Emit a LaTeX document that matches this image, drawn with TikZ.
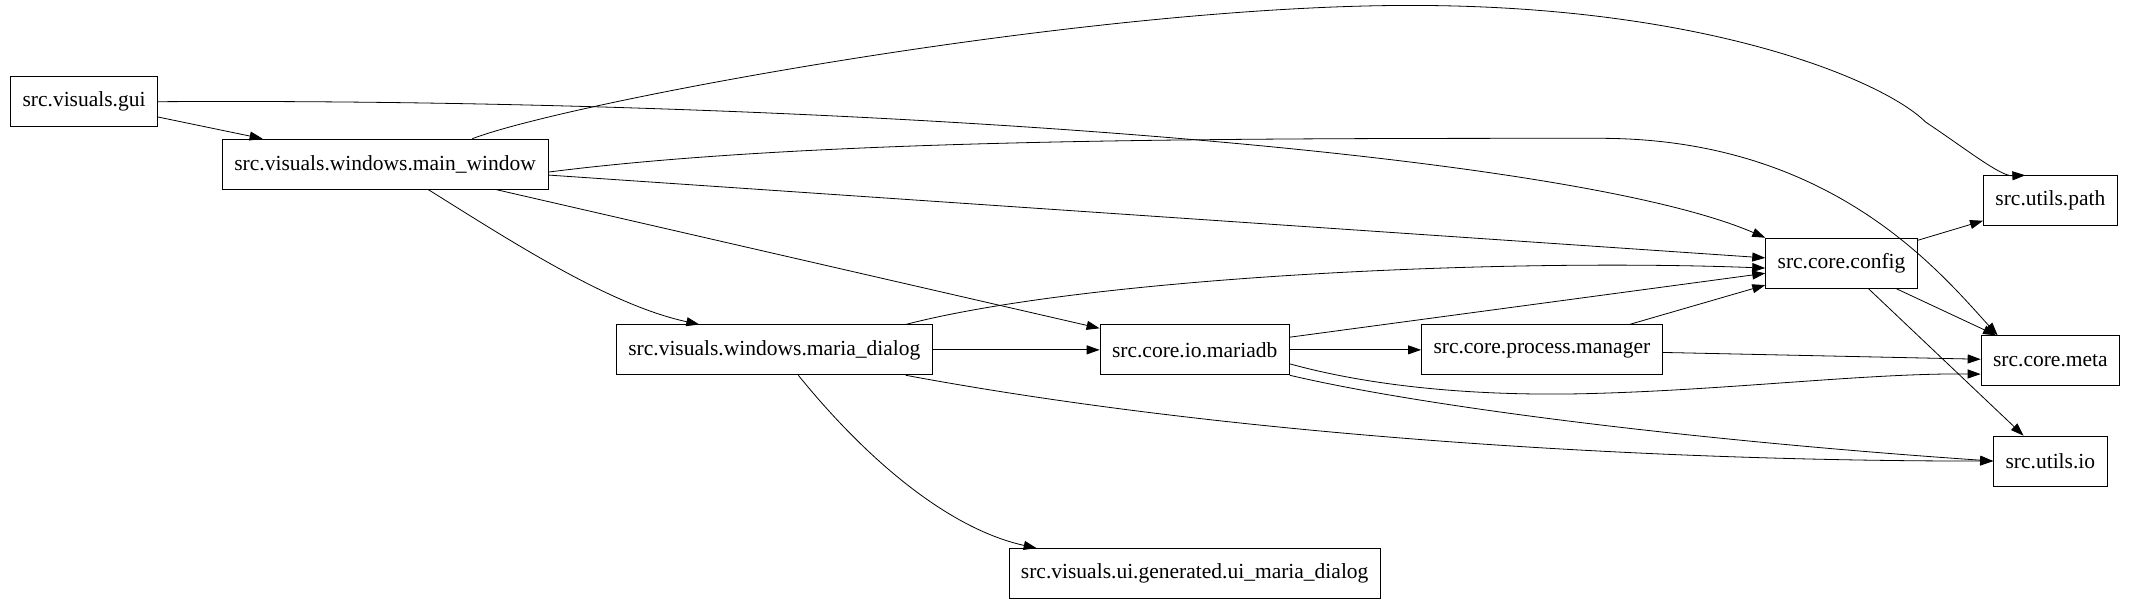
\documentclass[tikz,border=0pt]{standalone}
\usepackage{fontspec}
\setmainfont{Liberation Serif}
\usetikzlibrary{arrows.meta}

\begin{document}
\begin{tikzpicture}[
        x=1.356pt, y=-1.356pt,
        every node/.style={draw, rectangle, thick, font=\fontsize{21.5}{24}\selectfont,
            minimum height=50pt, inner xsep=12pt},
        dep/.style={-{Triangle[length=13pt,width=9pt]}, thick}
    ]
    \useasboundingbox (0,0) rectangle (1570,447);

        \node (gui) at (62,75) {src.visuals.gui};
        \node (main) at (284,121) {src.visuals.windows.main\_window};
        \node (dialog) at (571,258) {src.visuals.windows.maria\_dialog};
        \node (mariadb) at (881,258) {src.core.io.mariadb};
        \node (process) at (1137,258) {src.core.process.manager};
        \node (config) at (1358,194) {src.core.config};
        \node (path) at (1512,148) {src.utils.path};
        \node (meta) at (1512,266) {src.core.meta};
        \node (io) at (1512,340) {src.utils.io};
        \node (ui) at (881,423) {src.visuals.ui.generated.ui\_maria\_dialog};

        % edges
        \draw[dep] (gui) -- (main);
        \draw[dep] (gui.east) .. controls (600,72) and (1150,110) .. (config.north west);
        \draw[dep] ([xshift=-76pt]main.north east) .. controls (420,75) and (800,4) .. (1040,4)
            .. controls (1260,4) and (1390,60) .. (1420,90) .. controls (1450,110) and (1475,130) .. ([xshift=-25pt]path.north);
        \draw[dep] ([yshift=-8pt]main.east) .. controls (600,102) and (900,102) .. (1180,102)
            .. controls (1350,102) and (1430,200) .. ([xshift=17pt]meta.north west);
        \draw[dep] (main) -- (config);
        \draw[dep] (main) -- (mariadb);
        \draw[dep] ([xshift=43pt]main.south) .. controls (380,180) and (450,225) .. ([xshift=-75pt]dialog.north);
        \draw[dep] ([xshift=-27pt]dialog.north east) .. controls (800,205) and (1100,190) .. ([yshift=-5pt]config.west);
        \draw[dep] (dialog) -- (mariadb);
        \draw[dep] ([xshift=-27pt]dialog.south east) .. controls (900,320) and (1200,340) .. (io.west);
        \draw[dep] ([xshift=24pt]dialog.south) .. controls (640,340) and (700,390) .. ([xshift=-158pt]ui.north);
        \draw[dep] (mariadb) -- (config);
        \draw[dep] (mariadb) -- (process);
        \draw[dep] ([yshift=-14pt]mariadb.east) .. controls (1030,290) and (1120,292) .. (1180,290)
            .. controls (1280,287) and (1380,275) .. ([yshift=12pt]meta.south west);
        \draw[dep] (mariadb.south east) .. controls (1050,300) and (1250,325) .. (io.west);
        \draw[dep] (process) -- (config);
        \draw[dep] (process) -- (meta);
        \draw[dep] (config) -- (path);
        \draw[dep] (config) -- (meta);
        \draw[dep] (config) -- (io);
    \end{tikzpicture}
\end{document}
